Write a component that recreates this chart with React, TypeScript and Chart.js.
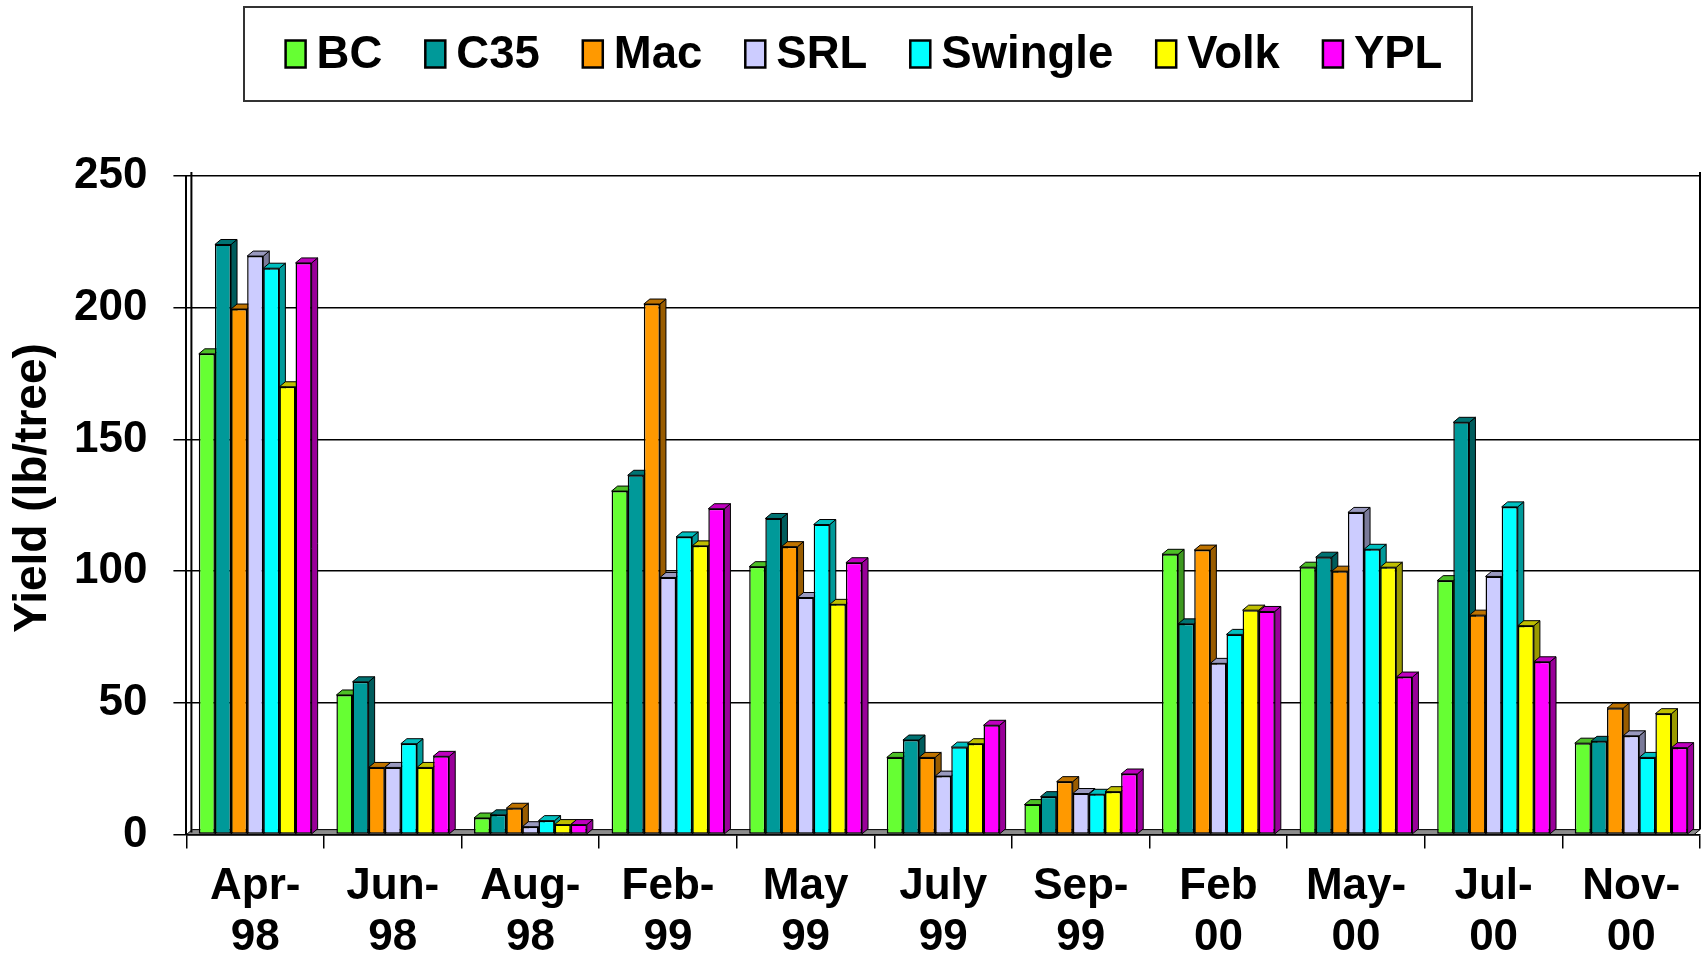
import React, { useEffect, useRef } from "react";
import { Chart, registerables } from "chart.js";
Chart.register(...registerables);

const categories: string[][] = [
  ["Apr-", "98"], ["Jun-", "98"], ["Aug-", "98"], ["Feb-", "99"], ["May", "99"],
  ["July", "99"], ["Sep-", "99"], ["Feb", "00"], ["May-", "00"], ["Jul-", "00"], ["Nov-", "00"],
];
const BC = [182.5, 53, 6.3, 130.4, 101.7, 29.3, 11.4, 106.4, 101.5, 96.4, 34.7];
const C35 = [224, 58, 7.5, 136.4, 120, 35.9, 14.4, 80, 105.3, 156.5, 35.4];
const Mac = [199.5, 25.5, 10, 201.4, 109.3, 29.3, 20.1, 108, 100, 83.3, 48];
const SRL = [219.6, 25.5, 3, 97.6, 90, 22.2, 15.6, 65, 122.3, 98, 37.5];
const Swingle = [215, 34.5, 5.3, 113, 117.7, 33.2, 15.3, 76, 108.3, 124.4, 29.3];
const Volk = [170, 25.5, 3.8, 109.6, 87.4, 34.5, 16.3, 85.2, 101.5, 79.3, 45.9];
const YPL = [217, 29.7, 3.8, 123.7, 103.2, 41.5, 23, 84.7, 59.8, 65.6, 33];

const seriesNames = ["BC", "C35", "Mac", "SRL", "Swingle", "Volk", "YPL"];
const seriesValues = [BC, C35, Mac, SRL, Swingle, Volk, YPL];
const seriesColors = ["#66FF33", "#009999", "#FF9900", "#CCCCFF", "#00FFFF", "#FFFF00", "#FF00FF"];

const yMin = 0;
const yMax = 250;
const yStep = 50;
const yTitle = "Yield (lb/tree)";

const FONT = "'Liberation Sans', Arial, Helvetica, sans-serif";
const DX = 6;
const DY = 5;

function shade(hex: string, f: number): string {
  const n = parseInt(hex.slice(1), 16);
  const r = Math.round(((n >> 16) & 255) * f);
  const g = Math.round(((n >> 8) & 255) * f);
  const b = Math.round((n & 255) * f);
  return `rgb(${r},${g},${b})`;
}

const bar3d = {
  id: "bar3d",
  beforeDatasetsDraw(chart: any) {
    const ctx = chart.ctx as CanvasRenderingContext2D;
    const { left, right, bottom } = chart.chartArea;
    ctx.save();
    ctx.fillStyle = "#8c8c8c";
    ctx.strokeStyle = "#000";
    ctx.lineWidth = 1;
    ctx.beginPath();
    ctx.moveTo(left, bottom);
    ctx.lineTo(right - DX, bottom);
    ctx.lineTo(right, bottom - DY);
    ctx.lineTo(left + DX, bottom - DY);
    ctx.closePath();
    ctx.fill();
    ctx.stroke();
    chart.data.datasets.forEach((ds: any, i: number) => {
      const meta = chart.getDatasetMeta(i);
      const col = seriesColors[i];
      meta.data.forEach((el: any) => {
        const p = el.getProps(["x", "y", "base", "width"], true);
        const l = p.x - p.width / 2;
        const r = p.x + p.width / 2;
        const t = p.y;
        const b = p.base;
        ctx.fillStyle = shade(col, 0.6);
        ctx.beginPath();
        ctx.moveTo(r, t);
        ctx.lineTo(r + DX, t - DY);
        ctx.lineTo(r + DX, b - DY);
        ctx.lineTo(r, b);
        ctx.closePath();
        ctx.fill();
        ctx.stroke();
        ctx.fillStyle = shade(col, 0.75);
        ctx.beginPath();
        ctx.moveTo(l, t);
        ctx.lineTo(l + DX, t - DY);
        ctx.lineTo(r + DX, t - DY);
        ctx.lineTo(r, t);
        ctx.closePath();
        ctx.fill();
        ctx.stroke();
      });
    });
    ctx.restore();
  },
  afterDraw(chart: any) {
    const ctx = chart.ctx as CanvasRenderingContext2D;
    const { top, left, right, bottom } = chart.chartArea;
    ctx.save();
    ctx.strokeStyle = "#000";
    ctx.lineWidth = 2;
    ctx.beginPath();
    ctx.moveTo(right, top - 4);
    ctx.lineTo(right, bottom - DY);
    ctx.moveTo(left + 5, top - 4);
    ctx.lineTo(left + 5, bottom - 2);
    ctx.stroke();

    // y-axis title
    ctx.save();
    ctx.translate(33, 488);
    ctx.rotate(-Math.PI / 2);
    ctx.font = `bold 46px ${FONT}`;
    ctx.fillStyle = "#000";
    ctx.textAlign = "center";
    ctx.textBaseline = "middle";
    ctx.fillText(yTitle, 0, 0);
    ctx.restore();

    // legend
    const boxL = 244, boxT = 7, boxW = 1228, boxH = 94;
    ctx.fillStyle = "#fff";
    ctx.fillRect(boxL, boxT, boxW, boxH);
    ctx.strokeStyle = "#333";
    ctx.lineWidth = 2;
    ctx.strokeRect(boxL, boxT, boxW, boxH);

    ctx.font = `bold 45.5px ${FONT}`;
    ctx.textBaseline = "middle";
    ctx.textAlign = "left";
    const mW = 20, mH = 27, gapText = 11, gapItem = 43;
    const widths = seriesNames.map((n) => ctx.measureText(n).width);
    let total = 0;
    widths.forEach((w, i) => {
      total += mW + gapText + w + (i < widths.length - 1 ? gapItem : 0);
    });
    let x = 864 - total / 2;
    const cy = 54;
    seriesNames.forEach((n, i) => {
      ctx.fillStyle = seriesColors[i];
      ctx.fillRect(x, cy - mH / 2, mW, mH);
      ctx.strokeStyle = "#000";
      ctx.lineWidth = 2.5;
      ctx.strokeRect(x, cy - mH / 2, mW, mH);
      ctx.fillStyle = "#000";
      ctx.fillText(n, x + mW + gapText, cy + 1);
      x += mW + gapText + widths[i] + gapItem;
    });
    ctx.restore();
  },
};

export default function App() {
  const ref = useRef<HTMLCanvasElement | null>(null);
  useEffect(() => {
    if (!ref.current) return;
    Chart.defaults.font.family = FONT;
    const chart = new Chart(ref.current, {
      type: "bar",
      data: {
        labels: categories,
        datasets: seriesNames.map((name, i) => ({
          label: name,
          data: seriesValues[i],
          backgroundColor: seriesColors[i],
          borderColor: "#000",
          borderWidth: 1.5,
          borderSkipped: false,
          categoryPercentage: 0.82,
          barPercentage: 1.0,
        })),
      },
      options: {
        animation: false,
        responsive: false,
        maintainAspectRatio: false,
        layout: { padding: { top: 176, left: 48, right: 3, bottom: -19 } },
        plugins: {
          legend: { display: false },
          tooltip: { enabled: false },
          title: { display: false },
        },
        scales: {
          x: {
            grid: {
              display: true,
              drawOnChartArea: false,
              drawTicks: true,
              tickLength: 14,
              offset: true,
              color: "#000",
              lineWidth: 1.5,
            },
            border: { display: true, color: "#000", width: 1.5 },
            ticks: {
              color: "#000",
              font: { size: 44, weight: "bold", lineHeight: 1.175 },
              padding: 12,
              maxRotation: 0,
              minRotation: 0,
              autoSkip: false,
            },
          },
          y: {
            min: yMin,
            max: yMax,
            ticks: {
              stepSize: yStep,
              color: "#000",
              font: { size: 44, weight: "bold" },
              padding: 26,
            },
            grid: {
              color: "#000",
              lineWidth: 1.5,
              tickLength: 13,
              drawTicks: true,
            },
            border: { display: true, color: "#000", width: 2 },
            title: { display: false },
          },
        },
      },
      plugins: [bar3d],
    });
    return () => chart.destroy();
  }, []);
  return (
    <div style={{ position: "fixed", left: 0, top: 0, width: 1703, height: 957, background: "#fff" }}>
      <canvas ref={ref} width={1703} height={957} style={{ display: "block" }} />
    </div>
  );
}
